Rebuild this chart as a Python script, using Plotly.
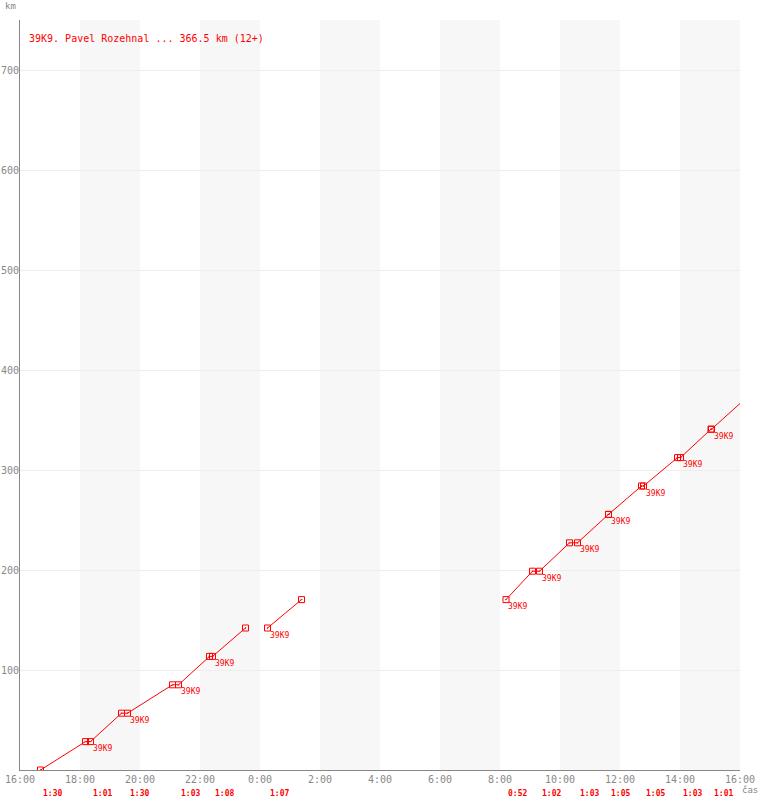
import plotly.graph_objects as go

# ---------------- data ----------------
title_text = "39K9. Pavel Rozehnal ... 366.5 km (12+)"
team_label = "39K9"

x_tick_labels = ["16:00", "18:00", "20:00", "22:00", "0:00", "2:00", "4:00",
                 "6:00", "8:00", "10:00", "12:00", "14:00", "16:00"]
y_tick_values = [100, 200, 300, 400, 500, 600, 700]

# track segments (arrival / departure pairs at each stop)
seg1_times = ["16:41", "18:11", "18:21", "19:23", "19:35", "21:05", "21:17",
              "22:19", "22:25", "23:31"]
seg1_km = [0.0, 28.4, 28.4, 56.8, 56.8, 85.2, 85.2, 113.6, 113.6, 142.0]

seg2_times = ["0:15", "1:23"]
seg2_km = [142.0, 170.4]

seg3_times = ["8:12", "9:05", "9:19", "10:19", "10:35", "11:37", "11:37",
              "12:43", "12:47", "13:55", "14:01", "15:02", "15:03", "16:00"]
seg3_km = [170.4, 198.8, 198.8, 227.2, 227.2, 255.6, 255.6, 284.0, 284.0,
           312.4, 312.4, 340.8, 340.8, 366.5]

# start of each leg and its lap time
leg_start = ["16:41", "18:21", "19:35", "21:17", "22:25", "0:15", "8:12",
             "9:19", "10:35", "11:37", "12:47", "14:01", "15:03"]
leg_start_km = [0.0, 28.4, 56.8, 85.2, 113.6, 142.0, 170.4, 198.8, 227.2,
                255.6, 284.0, 312.4, 340.8]
lap_times = ["1:30", "1:01", "1:30", "1:03", "1:08", "1:07", "0:52", "1:02",
             "1:03", "1:05", "1:05", "1:03", "1:01"]


def to_minutes(times):
    out, prev = [], -1
    for t in times:
        h, m = map(int, t.split(":"))
        v = h * 60 + m - 960
        while v < prev:
            v += 1440
        out.append(v)
        prev = v
    return out


RED = "#ff0000"
GRAY = "#888888"
MONO = "DejaVu Sans Mono"

x_ticks = to_minutes(x_tick_labels)
s1 = to_minutes(seg1_times)
s2 = to_minutes(seg2_times)
s3 = to_minutes(seg3_times)
legs = to_minutes(leg_start)

fig = go.Figure()

line_x = s1 + [None] + s2 + [None] + s3
line_y = seg1_km + [None] + seg2_km + [None] + seg3_km
fig.add_trace(go.Scatter(x=line_x, y=line_y, mode="lines",
                         line=dict(color=RED, width=1), hoverinfo="skip",
                         showlegend=False))

mk_x = s1 + s2 + s3[:-1]
mk_y = seg1_km + seg2_km + seg3_km[:-1]
fig.add_trace(go.Scatter(x=mk_x, y=mk_y, mode="markers",
                         marker=dict(symbol="square-open-dot", size=6,
                                     color=RED, line=dict(color=RED, width=1)),
                         showlegend=False))

# alternating bands
shapes = []
for i in range(1, len(x_ticks) - 1, 2):
    shapes.append(dict(type="rect", xref="x", yref="paper",
                       x0=x_ticks[i], x1=x_ticks[i + 1], y0=0, y1=1,
                       fillcolor="#f7f7f7", line=dict(width=0), layer="below"))

annotations = []
for x, y in zip(legs[1:], leg_start_km[1:]):
    annotations.append(dict(x=x, y=y, xref="x", yref="y", text=team_label,
                            showarrow=False, xanchor="left", yanchor="middle",
                            xshift=0, yshift=-7,
                            font=dict(family=MONO, size=8, color=RED)))
for x, lt in zip(legs, lap_times):
    annotations.append(dict(x=x, y=0, xref="x", yref="paper",
                            text="<b>" + lt + "</b>", showarrow=False,
                            xanchor="left", yanchor="middle",
                            xshift=0, yshift=-23,
                            font=dict(family=MONO, size=8, color=RED)))
annotations.append(dict(x=0, y=1, xref="paper", yref="paper", text=title_text,
                        showarrow=False, xanchor="left", yanchor="middle",
                        xshift=7, yshift=-18,
                        font=dict(family=MONO, size=10, color=RED)))
annotations.append(dict(x=0, y=1, xref="paper", yref="paper", text="km",
                        showarrow=False, xanchor="left", yanchor="middle",
                        xshift=-17, yshift=14,
                        font=dict(family=MONO, size=9, color=GRAY)))
annotations.append(dict(x=1, y=0, xref="paper", yref="paper", text="čas",
                        showarrow=False, xanchor="left", yanchor="middle",
                        xshift=0, yshift=-20,
                        font=dict(family=MONO, size=9, color=GRAY)))

fig.update_layout(
    width=760, height=800, autosize=False,
    margin=dict(l=20, r=20, t=20, b=30, pad=0),
    paper_bgcolor="white", plot_bgcolor="white",
    shapes=shapes, annotations=annotations,
    font=dict(family=MONO, size=10, color=GRAY),
    xaxis=dict(range=[0, 1440], tickmode="array", tickvals=x_ticks,
               ticktext=x_tick_labels, showgrid=False, zeroline=False,
               showline=True, linecolor=GRAY, linewidth=1, ticks="",
               automargin=False,
               tickfont=dict(family=MONO, size=10, color=GRAY)),
    yaxis=dict(range=[0, 750], tickmode="array", tickvals=y_tick_values,
               showgrid=True, gridcolor="#eeeeee", gridwidth=1,
               zeroline=False, showline=True, linecolor=GRAY, linewidth=1,
               ticks="", automargin=False, ticklabelstandoff=-2,
               tickfont=dict(family=MONO, size=10, color=GRAY)),
)

fig.write_html("out.html",
               config={"displayModeBar": False},
               post_script="document.body.style.margin='0';"
                           "document.body.style.overflow='hidden';")
